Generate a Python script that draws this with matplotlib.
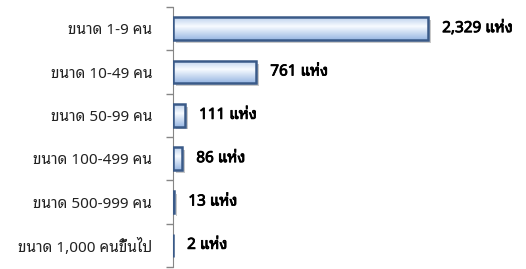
import matplotlib
matplotlib.use("Agg")
import matplotlib.pyplot as plt
import matplotlib.patheffects as pe
import numpy as np

categories = ["ขนาด 1-9 คน", "ขนาด 10-49 คน", "ขนาด 50-99 คน",
              "ขนาด 100-499 คน", "ขนาด 500-999 คน", "ขนาด 1,000 คนขึ้นไป"]
counts = [2329, 761, 111, 86, 13, 2]
value_labels = ["2,329 แห่ง", "761 แห่ง", "111 แห่ง", "86 แห่ง", "13 แห่ง", "2 แห่ง"]

thai = ["Noto Sans Thai Looped", "DejaVu Sans"]
plt.rcParams["font.family"] = thai

fig = plt.figure(figsize=(5.26, 2.69), dpi=100)
ax = fig.add_axes([173 / 526, 1 - 267 / 269, 285 / 526, 260 / 269])

y = np.arange(len(categories))

# soft shadow underneath
ax.barh(y, counts, height=0.52, color="white", linewidth=1.6,
        edgecolor="white", zorder=1,
        path_effects=[pe.SimplePatchShadow(offset=(2, -2), alpha=0.3),
                      pe.Normal()])

bars = ax.barh(y, counts, height=0.52, color="none", edgecolor="#3a5a88",
               linewidth=1.8, zorder=3)

# bevel-like vertical gradient inside each bar
top = np.array([0.74, 0.82, 0.93])
mid = np.array([0.97, 0.985, 1.0])
bot = np.array([0.60, 0.72, 0.89])
cols = []
for g in np.linspace(0, 1, 40):
    if g < 0.4:
        c = top + (mid - top) * (g / 0.4)
    else:
        c = mid + (bot - mid) * ((g - 0.4) / 0.6)
    cols.append(c)
img = np.array(cols)[:, None, :]
for b in bars:
    x0, y0 = b.get_x(), b.get_y()
    w, h = b.get_width(), b.get_height()
    im = ax.imshow(img, extent=[x0, x0 + w, y0 + h, y0], aspect="auto",
                   zorder=2, interpolation="bilinear")
    im.set_clip_path(b)

bold = [pe.withStroke(linewidth=0.6, foreground="black")]
for b, lab in zip(bars, value_labels):
    ax.annotate(lab, (b.get_width(), b.get_y() + b.get_height() / 2),
                xytext=(10, 0), textcoords="offset points", va="center",
                ha="left", fontsize=11, family=thai, color="black",
                path_effects=bold)

ax.set_xlim(0, 2600)
ax.set_ylim(len(categories) - 0.5, -0.5)
ax.set_yticks(y)
ax.set_yticklabels(categories, fontsize=11, family=thai)
ax.set_yticks(np.arange(len(categories) + 1) - 0.5, minor=True)
ax.tick_params(axis="y", which="major", length=0, pad=15, colors="#222222")
ax.tick_params(axis="y", which="minor", length=5, width=1, color="#868686")
ax.set_xticks([])
for s in ["top", "right", "bottom"]:
    ax.spines[s].set_visible(False)
ax.spines["left"].set_color("#868686")

fig.savefig("out.png")
